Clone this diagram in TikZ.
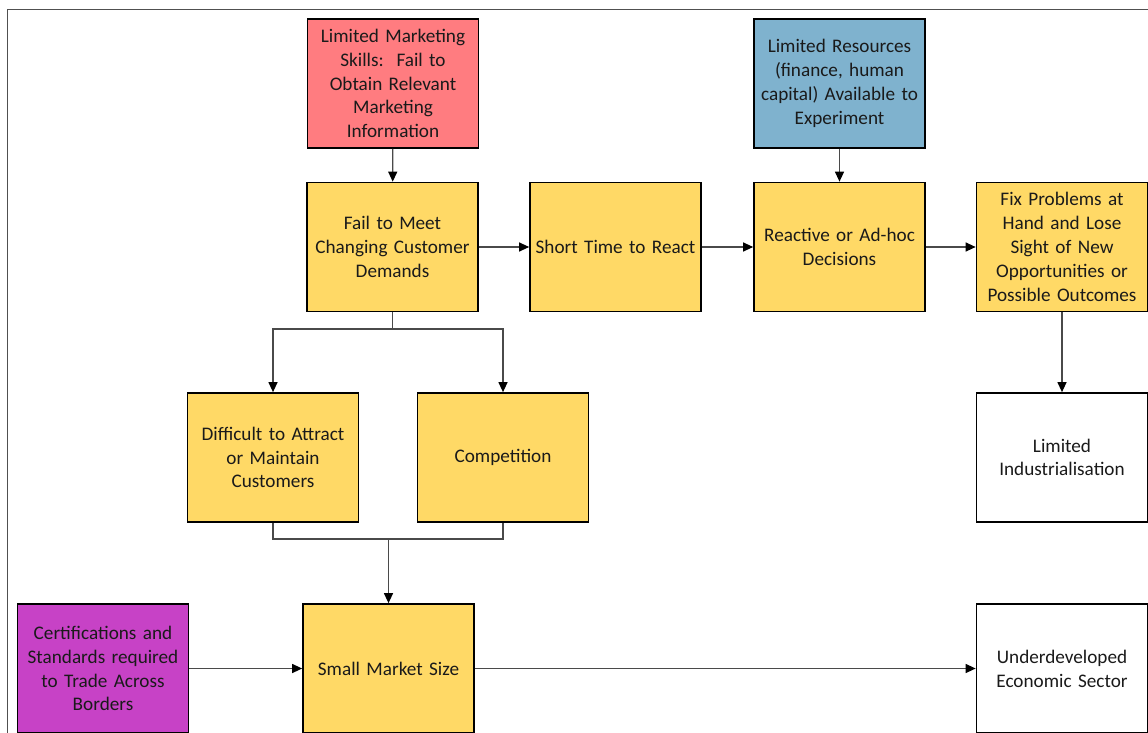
\documentclass[tikz,border=0pt]{standalone}
\usepackage{fontspec}
\setmainfont{Carlito}
\usepackage{xcolor}
\usetikzlibrary{arrows.meta}
\definecolor{boxred}{HTML}{FF7C80}
\definecolor{boxblue}{HTML}{7FB2CE}
\definecolor{boxyellow}{HTML}{FFD966}
\definecolor{boxpurple}{HTML}{C742C6}
\definecolor{linegray}{HTML}{4A4A4A}
\definecolor{framegray}{HTML}{505050}
\definecolor{textdark}{HTML}{1A1A1A}

\tikzset{
  cause/.style={draw=black, line width=1.7pt, fill=boxyellow,
        minimum width=171pt, minimum height=129pt, text width=166pt,
        inner sep=2pt, align=center, text=textdark,
        font=\fontsize{19.2pt}{23.8pt}\selectfont},
  effect/.style={cause, fill=white},
  link/.style={draw=linegray, line width=1.2pt},
  arrow/.style={link, -{Triangle[length=10pt,width=9pt,fill=black,color=black]}}
}

\begin{document}
\begin{tikzpicture}[x=1pt, y=-1pt]
  \useasboundingbox (0,0) rectangle (1148,733);
  \draw[framegray, line width=1pt] (7,740) -- (7,10) -- (1155,10);

  \node[cause, fill=boxred] (skills) at (393,83.5)
    {Limited Marketing\\Skills:~~Fail to\\Obtain Relevant\\Marketing\\Information};
  \node[cause, fill=boxblue] (resources) at (839.5,83.5)
    {Limited Resources\\(finance, human\\capital) Available to\\Experiment};
  \node[cause] (demands) at (392.5,247)
    {Fail to Meet\\Changing Customer\\Demands};
  \node[cause] (react) at (615.5,247) {Short Time to React};
  \node[cause] (adhoc) at (839.5,247) {Reactive or Ad-hoc\\Decisions};
  \node[cause] (fix) at (1062,247)
    {Fix Problems at\\Hand and Lose\\Sight of New\\Opportunities or\\Possible Outcomes};
  \node[cause] (attract) at (273,457.5)
    {Difficult to Attract\\or Maintain\\Customers};
  \node[cause] (competition) at (503,457.5) {Competition};
  \node[effect] (industrial) at (1062,457.5) {Limited\\Industrialisation};
  \node[cause, fill=boxpurple] (certs) at (103,668.5)
    {Certifications and\\Standards required\\to Trade Across\\Borders};
  \node[cause] (market) at (388.5,668.5) {Small Market Size};
  \node[effect] (sector) at (1062,668.5) {Underdeveloped\\Economic Sector};

  \coordinate (split) at (392.5,329);
  \coordinate (merge) at (388.5,539);

  \draw[arrow] (skills) -- (demands);
  \draw[arrow] (resources) -- (adhoc);
  \draw[arrow] (demands) -- (react);
  \draw[arrow] (react) -- (adhoc);
  \draw[arrow] (adhoc) -- (fix);
  \draw[arrow] (fix) -- (industrial);
  \draw[link] (demands.south) -- (split);
  \draw[arrow] (split) -| (attract.north);
  \draw[arrow] (split) -| (competition.north);
  \draw[link] (attract.south) |- (merge) -| (competition.south);
  \draw[arrow] (merge) -- (market.north);
  \draw[arrow] (certs) -- (market);
  \draw[arrow] (market) -- (sector);
\end{tikzpicture}
\end{document}
